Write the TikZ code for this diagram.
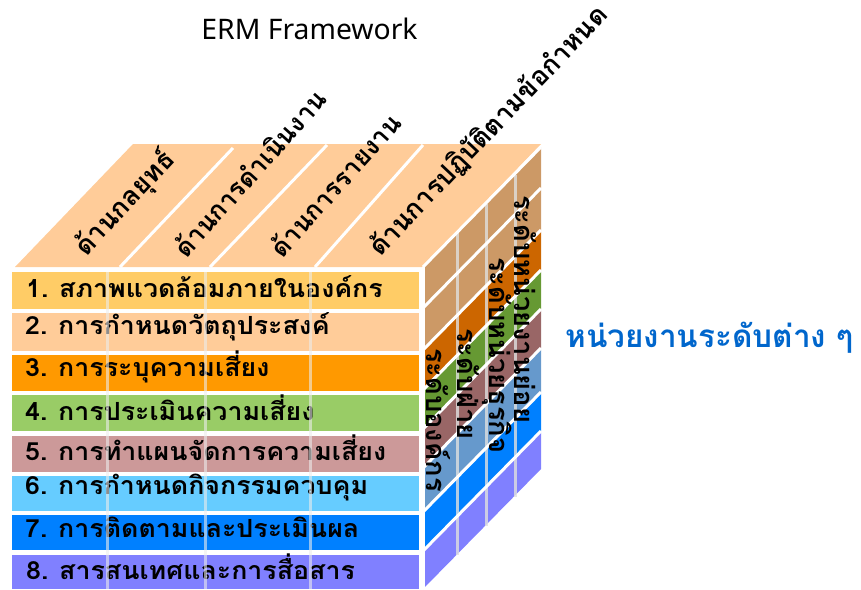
\documentclass[tikz,border=0pt]{standalone}
\usepackage{fontspec}
\setmainfont{Noto Sans}
\newfontfamily\thaifont[Script=Thai]{Loma}
\definecolor{cTop}{HTML}{FFCC99}
\definecolor{fA}{HTML}{FFCC66}\definecolor{fB}{HTML}{FFCC99}\definecolor{fC}{HTML}{FF9900}\definecolor{fD}{HTML}{99CC66}
\definecolor{fE}{HTML}{CC9999}\definecolor{fF}{HTML}{66CCFF}\definecolor{fG}{HTML}{0080FF}\definecolor{fH}{HTML}{8080FF}
\definecolor{sA}{HTML}{CC9966}\definecolor{sC}{HTML}{CC6600}\definecolor{sD}{HTML}{669933}\definecolor{sE}{HTML}{996666}\definecolor{sF}{HTML}{6699CC}
\definecolor{labelblue}{HTML}{0066CC}
\newcommand{\rownum}[1]{#1\hspace{10pt}}
\tikzset{
  rowbox/.style={anchor=north west,minimum width=407pt,inner sep=0pt,outer sep=0pt},
  rowtext/.style={anchor=west,inner sep=0pt,xscale=1.07,font=\thaifont\bfseries\fontsize{25}{25}\selectfont,text=black},
  toptext/.style={anchor=west,inner sep=0pt,rotate=47,font=\thaifont\bfseries\fontsize{26.6}{27}\selectfont,text=black},
  toptextb/.style={anchor=west,inner sep=0pt,rotate=48,font=\thaifont\bfseries\fontsize{25.8}{26}\selectfont,text=black},
  sidetext/.style={anchor=west,inner sep=0pt,rotate=-90,font=\thaifont\bfseries\fontsize{27.3}{27}\selectfont,text=black},
  whiteline/.style={draw=white,line width=3pt},
  frontdiv/.style={draw=gray!15,line width=3pt,opacity=.6},
  sidediv/.style={draw=gray!25,line width=3pt,opacity=.8},
}
\begin{document}
\begin{tikzpicture}[x=1pt,y=-1pt]
\useasboundingbox (0,0) rectangle (861,589);
% top face
\fill[cTop] (15,267) -- (133,144) -- (541,144) -- (423,267) -- cycle;
\draw[whiteline] (120,267) -- (233,148);
\draw[whiteline] (210,267) -- (327,145);
\draw[whiteline] (315,267) -- (423,145);
% side face bands
\foreach \ya/\yb/\c in {267/308/sA,308/350/sA,350/390/sC,390/429/sD,429/468/sE,468/512/sF,512/551/fG,551/589/fH}{
  \fill[\c] (423,\ya) -- (541,\ya-120) -- (541,\yb-120) -- (423,\yb) -- cycle;
}
\foreach \x in {457,486,515}{
  \draw[sidediv] (\x,267-\x+423) -- (\x,589-\x+423);
}
\foreach \y in {267,308,350,390,429,468,512,551}{
  \draw[whiteline] (423,\y) -- (541,\y-120);
}
\draw[whiteline] (423,267) -- (423,589);
% front rows
\node[rowbox,fill=fA,minimum height=37pt] (r1) at (12,272) {};
\node[rowbox,fill=fB,minimum height=38pt] (r2) at (12,313) {};
\node[rowbox,fill=fC,minimum height=36pt] (r3) at (12,355) {};
\node[rowbox,fill=fD,minimum height=36pt] (r4) at (12,395) {};
\node[rowbox,fill=fE,minimum height=36pt] (r5) at (12,436) {};
\node[rowbox,fill=fF,minimum height=35pt] (r6) at (12,476) {};
\node[rowbox,fill=fG,minimum height=35pt] (r7) at (12,515) {};
\node[rowbox,fill=fH,minimum height=34pt] (r8) at (12,555) {};
% row labels
\node[rowtext] (t1) at (26,287) {\rownum{1.}สภาพแวดล้อมภายในองค์กร};
\node[rowtext] (t2) at (25,327) {\rownum{2.}การกำหนดวัตถุประสงค์};
\node[rowtext] (t3) at (25,367) {\rownum{3.}การระบุความเสี่ยง};
\node[rowtext] (t4) at (25,408) {\rownum{4.}การประเมินความเสี่ยง};
\node[rowtext] (t5) at (25,448) {\rownum{5.}การทำแผนจัดการความเสี่ยง};
\node[rowtext] (t6) at (25,488) {\rownum{6.}การกำหนดกิจกรรมควบคุม};
\node[rowtext] (t7) at (25,527) {\rownum{7.}การติดตามและประเมินผล};
\node[rowtext] (t8) at (26,567) {\rownum{8.}สารสนเทศและการสื่อสาร};
% faint front dividers
\foreach \x in {107,205,310}{
  \draw[frontdiv] (\x,272) -- (\x,589);
}
% top labels
\node[toptext] (a1) at (80,252) {ด้านกลยุทธ์};
\node[toptextb] (a2) at (178,252) {ด้านการดำเนินงาน};
\node[toptextb] (a3) at (274,252) {ด้านการรายงาน};
\node[toptext,rotate=-0.5] (a4) at (374,252) {ด้านการปฏิบัติตามข้อกำหนด};
% side labels
\node[sidetext] (b1) at (438,348) {ระดับองค์กร};
\node[sidetext] (b2) at (468,328) {ระดับฝ่าย};
\node[sidetext] (b3) at (497,257) {ระดับหน่วยธุรกิจ};
\node[sidetext] (b4) at (525,195) {ระดับหน่วยงานย่อย};
% title and caption
\node[inner sep=0pt,font=\fontsize{28.3}{28}\selectfont,text=black] (title) at (309.5,29) {ERM Framework};
\node[inner sep=0pt,font=\thaifont\bfseries\fontsize{31.5}{32}\selectfont,text=labelblue] (cap) at (709.5,338) {หน่วยงานระดับต่าง ๆ};
\end{tikzpicture}
\end{document}
